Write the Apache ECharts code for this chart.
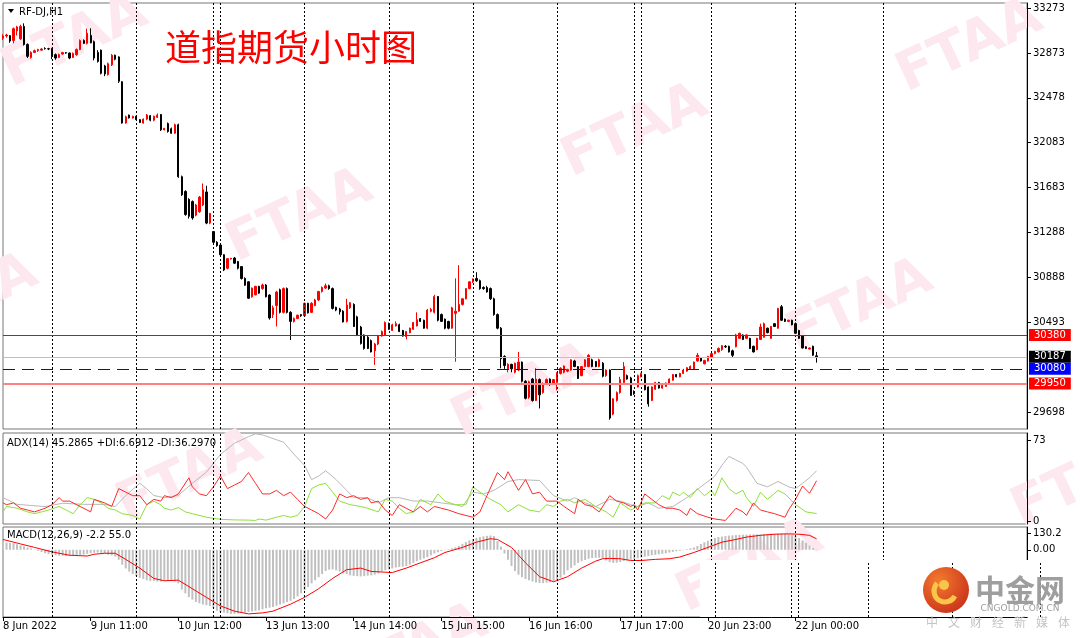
<!DOCTYPE html>
<html><head><meta charset="utf-8">
<script src="https://cdn.jsdelivr.net/npm/echarts/dist/echarts.min.js"></script>
<style>html,body{margin:0;padding:0;background:#fff}#c{width:1080px;height:638px}</style>
</head><body><div id="c"></div><script>
// ---------- DATA ----------
const slotCount = 293; // hourly slots visible (incl. empty right margin)
const categories = Array.from({length: slotCount}, (_, i) => String(i));
const timeTicks = [[0,'8 Jun 2022'],[25,'9 Jun 11:00'],[50,'10 Jun 12:00'],[75,'13 Jun 13:00'],[100,'14 Jun 14:00'],[125,'15 Jun 15:00'],[150,'16 Jun 16:00'],[176,'17 Jun 17:00'],[201,'20 Jun 23:00'],[226,'22 Jun 00:00']];
const daySeparators = [14,38,60,62,86,110,134,158,180,182,202,226,251];
const priceTicks = [33273,32873,32478,32083,31683,31288,30888,30493,29698];
const adxTicks = [0,73];
const macdTicks = [0,130.2];
const levels = [30380,30187,30080,29950];
// [open, close, low, high]
const ohlc = [
[33005,33025,32990,33040],[33025,33034,33010,33045],[33028,32980,32965,33034],[32985,33090,32960,33100],[33070,33105,33030,33115],
[33000,33110,32990,33125],[33110,32950,32940,33137],[32950,32845,32830,32960],[32835,32880,32825,32890],[32880,32895,32875,32905],
[32895,32905,32885,32912],[32900,32910,32895,32918],[32915,32912,32905,32925],[32912,32910,32900,32920],[32915,32845,32820,32920],
[32860,32830,32815,32870],[32835,32860,32830,32870],[32865,32878,32860,32885],[32878,32874,32868,32882],[32874,32830,32820,32880],
[32835,32870,32830,32880],[32860,32905,32850,32915],[32905,32985,32900,32995],[32985,32960,32955,32995],[32960,33050,32950,33090],
[33030,32965,32960,33093],[32975,32830,32810,32985],[32880,32800,32790,32900],[32900,32695,32685,32905],[32760,32690,32670,32770],
[32685,32780,32675,32790],[32770,32855,32760,32865],[32855,32820,32810,32860],[32840,32625,32610,32845],[32620,32255,32250,32625],
[32255,32310,32250,32320],[32325,32300,32295,32330],[32300,32315,32295,32320],[32315,32285,32275,32320],[32285,32260,32255,32290],
[32255,32290,32250,32295],[32290,32325,32280,32335],[32320,32280,32270,32325],[32280,32315,32270,32320],[32305,32325,32300,32340],
[32330,32195,32185,32335],[32195,32208,32190,32212],[32250,32180,32170,32260],[32205,32165,32160,32215],[32165,32240,32160,32250],
[32240,31780,31770,32250],[31780,31620,31610,31790],[31650,31445,31435,31660],[31580,31430,31410,31590],[31560,31415,31400,31570],
[31440,31530,31430,31540],[31470,31600,31460,31610],[31530,31665,31520,31720],[31645,31370,31360,31700],[31370,31455,31360,31460],
[31295,31200,31180,31300],[31200,31170,31160,31210],[31175,31090,31080,31180],[31090,30955,30945,31095],[30970,31055,30960,31060],
[31052,31058,31048,31062],[31060,31015,31010,31070],[31030,30970,30960,31035],[30985,30880,30870,30990],[30880,30820,30815,30890],
[30850,30705,30700,30855],[30718,30795,30710,30800],[30735,30810,30730,30815],[30810,30750,30745,30815],[30790,30822,30780,30835],
[30822,30718,30712,30830],[30733,30530,30515,30740],[30560,30620,30530,30640],[30640,30760,30455,30770],[30780,30580,30570,30790],
[30580,30790,30570,30800],[30790,30580,30570,30800],[30580,30500,30335,30590],[30500,30525,30490,30535],[30525,30555,30520,30560],
[30560,30550,30540,30565],[30550,30660,30545,30665],[30660,30575,30570,30665],[30580,30660,30575,30670],[30640,30690,30635,30700],
[30690,30765,30680,30770],[30765,30800,30755,30810],[30795,30815,30785,30835],[30815,30790,30780,30825],[30790,30615,30605,30800],
[30625,30600,30590,30630],[30610,30585,30560,30620],[30590,30495,30490,30600],[30500,30645,30490,30700],[30620,30665,30610,30670],
[30650,30455,30450,30660],[30540,30380,30370,30550],[30450,30305,30295,30460],[30380,30260,30250,30385],[30360,30260,30255,30370],
[30330,30230,30225,30340],[30240,30300,30115,30310],[30300,30370,30290,30380],[30370,30410,30365,30420],[30380,30490,30375,30500],
[30480,30430,30425,30490],[30420,30470,30415,30480],[30460,30480,30455,30500],[30470,30410,30405,30480],[30420,30370,30365,30425],
[30365,30410,30340,30415],[30400,30440,30395,30445],[30430,30490,30425,30495],[30460,30515,30455,30580],[30525,30500,30495,30530],
[30510,30440,30435,30515],[30440,30600,30430,30610],[30590,30605,30580,30620],[30580,30720,30570,30735],[30720,30510,30500,30725],
[30560,30500,30495,30570],[30520,30440,30430,30525],[30500,30440,30430,30505],[30440,30620,30435,30630],[30571,30590,30143,30881],
[30590,30650,30585,30998],[30650,30700,30640,30705],[30700,30790,30695,30795],[30790,30850,30785,30855],[30850,30875,30840,30880],
[30880,30860,30850,30935],[30860,30790,30780,30870],[30800,30790,30780,30810],[30800,30760,30755,30815],[30790,30700,30690,30800],
[30700,30560,30550,30710],[30560,30440,30430,30570],[30440,30170,30085,30450],[30190,30110,30080,30200],[30080,30120,30050,30130],
[30120,30080,30050,30125],[30050,30130,30040,30135],[30070,30140,30060,30230],[30140,29970,29960,30145],[29970,29820,29810,29980],
[29830,29965,29815,29975],[29990,29800,29790,30000],[29800,29990,29795,30085],[29985,29850,29730,29995],[29870,29950,29860,29960],
[29950,29985,29940,29995],[29990,29945,29930,29995],[29945,29985,29940,29990],[29960,30045,29890,30050],[30040,30085,30030,30095],
[30050,30105,30040,30110],[30060,30075,30050,30080],[30070,30160,30065,30165],[30150,30100,30095,30160],[30100,29995,29990,30105],
[30020,30100,30015,30105],[30100,30160,30095,30165],[30100,30200,30095,30210],[30160,30100,30095,30170],[30145,30100,30095,30150],
[30100,30160,30095,30170],[30130,30015,30005,30140],[30020,30070,30010,30075],[30070,29645,29630,30075],[29680,29815,29670,29820],
[29800,29870,29790,29880],[29870,29985,29860,30010],[29960,30100,29950,30140],[30020,29990,29985,30030],[30000,29845,29840,30010],
[29880,29860,29850,29890],[29920,30020,29915,30030],[30010,30040,30005,30045],[30030,29895,29890,30035],[29920,29770,29745,29925],
[29800,29920,29795,29925],[29900,29960,29895,29965],[29960,29910,29905,29965],[29910,29935,29905,29940],[29925,29955,29920,29960],
[29955,29990,29950,29995],[29980,30030,29975,30035],[30030,30010,30005,30035],[30010,30040,30005,30045],[30040,30070,30035,30080],
[30060,30090,30055,30095],[30080,30100,30070,30110],[30075,30140,30070,30145],[30150,30200,30145,30220],[30175,30150,30145,30180],
[30125,30155,30120,30160],[30150,30190,30145,30195],[30180,30215,30175,30220],[30215,30235,30210,30240],[30230,30260,30225,30270],
[30250,30285,30240,30290],[30280,30275,30265,30290],[30280,30230,30225,30285],[30240,30200,30185,30250],[30276,30380,30270,30390],
[30350,30395,30345,30400],[30380,30340,30335,30385],[30350,30380,30345,30385],[30350,30260,30255,30355],[30280,30230,30225,30285],
[30250,30350,30245,30355],[30340,30450,30335,30480],[30360,30480,30355,30490],[30440,30400,30395,30445],[30350,30455,30345,30460],
[30480,30455,30450,30485],[30440,30615,30435,30620],[30630,30510,30505,30645],[30520,30500,30495,30525],[30500,30510,30495,30515],
[30510,30470,30465,30515],[30480,30395,30390,30490],[30420,30350,30345,30425],[30370,30265,30260,30375],[30275,30260,30255,30280],
[30255,30265,30250,30270],[30280,30200,30195,30285],[30195,30187,30135,30230]
];
// ADX(14) lines, [bar index, value] read at sampled bars
const adxMain = [[0,21],[4,15],[12,13],[17,16],[23,15],[29,15],[32,13],[35,23],[39,34],[41,29],[43,23],[46,21],[50,23],[54,34],[58,44],[62,60],[66,70],[70,76],[72,78.5],[74,77.6],[77,74.3],[80,71],[84,56.6],[86,50.2],[88,37.3],[90,40.5],[92,45.3],[95,37.3],[98,27.6],[100,21.1],[103,21],[105,19.5],[107,16.3],[110,21],[113,21],[117,18],[121,18],[125,16.3],[129,14.7],[131,13],[134,26],[137,24.4],[140,27.6],[144,35.6],[147,37.3],[153,36.5],[157,22.8],[161,17.9],[163,21],[166,16.3],[169,13],[173,19.5],[176,17.9],[179,14.7],[181,13],[184,16.3],[187,11.5],[191,13],[195,21],[199,30.8],[203,40.5],[205,50.2],[207,58.2],[209,55],[211,51.8],[212,48.5],[215,34],[218,30.8],[221,35.6],[224,30.8],[226,29.2],[228,34],[230,38.9],[232,45.3]];
const minusDI = [[0,16.3],[1,14.7],[3,16.3],[5,11.5],[7,9.9],[9,8.2],[12,11.5],[14,14.7],[16,21.1],[17,17.9],[19,17.9],[22,13.1],[25,8.2],[26,19.5],[29,16.3],[31,13.1],[33,29.2],[35,26],[37,22.8],[39,22.8],[41,14.7],[43,19.5],[45,17.9],[46,22.8],[48,21.1],[50,24.4],[53,38.9],[54,30.8],[56,24.4],[58,22.8],[60,30.8],[62,40.5],[64,29.2],[66,32.4],[68,35.6],[70,43.7],[72,34],[74,24.4],[76,24.4],[78,27.6],[80,22.8],[82,26],[84,19.5],[86,13.1],[88,9.9],[90,6.6],[92,1.8],[94,9.9],[96,24.4],[98,21.1],[100,22.8],[102,19.5],[104,21.1],[105,16.3],[107,17.9],[109,9.9],[111,5],[113,14.7],[115,11.5],[117,8.2],[119,13.1],[121,8.2],[123,13.1],[125,11.5],[127,9.9],[130,6.6],[134,3.4],[136,8.2],[138,22.8],[141,43.7],[143,37.3],[144,44.4],[147,27.6],[149,37.3],[151,24.4],[153,26],[155,17.9],[158,17.9],[160,13.1],[163,6.6],[164,19.5],[166,14.7],[168,13.1],[170,8.2],[173,22.8],[175,17.9],[177,16.3],[179,13.1],[180,14.7],[181,9.9],[183,24.4],[185,19.5],[187,14.7],[189,11.5],[191,11.5],[193,9.9],[195,5],[196,11.5],[198,6.6],[201,3.4],[203,1.8],[206,0.5],[209,11.5],[211,8.2],[212,5],[214,16.3],[216,9.9],[218,8.2],[220,6.6],[223,3.4],[224,9.9],[226,19.5],[228,31.5],[230,25],[232,36.3]];
const plusDI = [[0,8.2],[1,13.1],[4,11.5],[7,8.2],[9,6.6],[11,8.2],[13,9.9],[16,13.1],[18,9.9],[20,6.6],[22,14.7],[24,21.1],[26,19.5],[28,16.3],[30,11.5],[32,9.9],[34,6.6],[37,5],[39,1.8],[41,14.7],[43,17.9],[45,14.7],[46,11.5],[48,9.9],[50,12.1],[52,8.2],[54,6.6],[58,3.4],[62,1.5],[66,1],[70,0.8],[72,0.5],[73,1.8],[75,0.8],[78,3.4],[80,5],[82,3.4],[84,5],[86,13.1],[88,29.2],[90,32.4],[92,34],[94,26],[96,17.9],[99,14.7],[102,13.1],[104,11.5],[107,8.2],[109,19.5],[111,17.9],[113,11.5],[115,6.6],[117,8.2],[119,19.5],[122,14.7],[124,24.4],[126,17.9],[129,14.7],[132,14.7],[134,30.8],[136,26],[139,19.5],[142,14.7],[144,8.2],[147,14.7],[150,9.9],[153,8.2],[155,14.7],[157,13.1],[159,17.9],[161,19.5],[163,16.3],[166,19.5],[169,13.1],[172,8.2],[174,3.4],[176,16.3],[179,9.9],[181,13.1],[183,16.3],[186,16.3],[188,22.8],[190,19.5],[191,26],[193,22.8],[194,26],[196,21.1],[198,29.2],[200,22.8],[202,27.6],[203,22.8],[205,38.9],[207,29.2],[209,24.4],[211,27.6],[212,21.1],[214,13.1],[216,26],[218,19.5],[221,27.6],[223,24.4],[226,14.7],[229,8.2],[232,6.7]];
// MACD(12,26,9): histogram per bar, signal line at sampled bars
const macdHist = [60,58,55,52,45,35,28,18,10,3,-8,-18,-28,-35,
-40,-44,-47,-48,-50,-50,-48,-46,-42,-38,-32,-28,
-24,-22,-24,-30,-40,-45,-55,-80,-120,-150,-175,-195,-210,
-225,-235,-245,-250,-252,-255,-255,-250,-248,-250,-255,-270,
-320,-350,-380,-400,-420,-430,-440,-445,-450,-470,
-490,-500,-505,-510,-515,-515,-512,-508,-505,-500,-495,-490,-485,-478,
-470,-465,-460,-450,-440,-430,-420,-410,-395,-375,-350,-325,-300,-270,
-245,-220,-195,-170,-160,-158,-165,-175,-185,-195,-205,-210,-212,-214,-212,-208,
-205,-200,-190,-175,-165,-158,-150,-142,-138,-135,-130,-120,-105,
-92,-80,-70,-60,-45,-30,-20,-10,-3,5,12,20,32,48,62,75,85,95,
102,108,112,115,110,70,25,-30,-80,-130,
-170,-200,-220,-235,-245,-255,-262,-268,-268,-264,-260,-257,-245,-225,-200,
-165,-145,-125,-105,-92,-82,-72,-66,-64,-64,-70,-85,
-100,-105,-104,-98,-92,-86,-80,-74,-68,-62,-56,-50,-44,
-40,-36,-32,-28,-22,-17,-12,-8,-3,5,12,19,30,47,
60,72,85,95,102,106,110,114,116,118,120,121,122,
123,124,125,125,126,127,128,128,129,130,128,125,
118,110,95,75,55,33,15,-2];
const macdSignal = [[0,83],[5,47],[9,19],[14,-17],[19,-44],[24,-50],[26,-36],[29,-28],[32,-28],[35,-77],[39,-147],[43,-230],[46,-249],[50,-244],[54,-313],[58,-382],[62,-451],[66,-493],[70,-515],[74,-507],[77,-493],[82,-437],[86,-382],[90,-313],[94,-230],[98,-160],[102,-147],[105,-174],[111,-183],[115,-147],[119,-105],[123,-64],[126,-22],[131,19],[135,61],[139,89],[141,83],[145,19],[149,-105],[153,-216],[157,-257],[161,-216],[165,-147],[169,-91],[171,-72],[173,-69],[176,-72],[179,-86],[182,-86],[186,-77],[190,-72],[193,-58],[197,-22],[201,19],[205,61],[209,83],[212,102],[216,116],[220,125],[224,128],[227,125],[230,116],[232,88]];

// ---------- STYLE / LAYOUT ----------
const FONT = 'DejaVu Sans';
const levelStyles = [
  {line:{color:'#ff0000',width:1,type:'solid'}, bg:'#ff0000'},
  {line:{color:'#c0c0c0',width:1,type:'solid'}, bg:'#000000'},
  {line:{color:'#0000ff',width:1,type:[12,7]}, bg:'#0000ff'},
  {line:{color:'#ff8080',width:2,type:'solid'}, bg:'#ff0000'}
];
const tickMap = new Map(timeTicks);
const sepStyle = {color:'#000', width:1, type:[2,2]};
const sepMarks = daySeparators.map(i => ({xAxis:i}));

const gridL = 3, gridR = 53;
function xAx(g){
  const bottom = g === 2;
  return {type:'category', gridIndex:g, data:categories, boundaryGap:false,
    axisLine:{show:bottom, onZero:false, lineStyle:{color:'#000'}},
    axisTick:{show:bottom, interval:(i)=>tickMap.has(i), length:4, lineStyle:{color:'#000'}},
    axisLabel:{show:bottom, interval:(i)=>tickMap.has(i), formatter:(v)=>tickMap.get(Number(v))||'',
      align:'left', margin:4, color:'#000', fontFamily:FONT, fontSize:10},
    splitLine:{show:false}};
}
function yAx(g, min, max, ticks, fmt){
  return {type:'value', gridIndex:g, position:'right', min:min, max:max, scale:true,
    axisLine:{show:true, onZero:false, lineStyle:{color:'#000'}},
    axisTick:{show:true, customValues:ticks, length:4, lineStyle:{color:'#000'}},
    axisLabel:{show:true, customValues:ticks, margin:6, color:'#000', fontFamily:FONT, fontSize:10, formatter:fmt},
    splitLine:{show:false}};
}
function sepSeries(g){
  return {type:'line', xAxisIndex:g, yAxisIndex:g, data:[], z:2, silent:true,
    markLine:{silent:true, symbol:['none','none'], animation:false, lineStyle:sepStyle, label:{show:false}, data:sepMarks}};
}
function levelSeries(k){
  const st = levelStyles[k];
  return {type:'line', xAxisIndex:0, yAxisIndex:0, data:[], z:5, silent:true,
    markLine:{silent:true, symbol:['none','none'], animation:false, lineStyle:st.line,
      label:{show:true, position:'end', distance:2, formatter:String(levels[k]), color:'#fff', backgroundColor:st.bg,
        fontFamily:FONT, fontSize:10, lineHeight:10, padding:[1,5,1,5]},
      data:[{yAxis:levels[k]}]}};
}

// decorative watermark lattice, logo overlay
const graphics = [];
const wmOrigin = [75,42], wmA = [335,-85], wmB = [225,175];
for (let a=-2; a<=3; a++) for (let b=-2; b<=4; b++) {
  const x = wmOrigin[0] + a*wmA[0] + b*wmB[0], y = wmOrigin[1] + a*wmA[1] + b*wmB[1];
  if (x < -120 || x > 1200 || y < -60 || y > 700) continue;
  graphics.push({type:'text', x:x, y:y, rotation:25*Math.PI/180, z:0, silent:true,
    style:{text:'FTAA', fill:'#fce8ee', font:'bold 54px "DejaVu Sans"', textAlign:'center', textVerticalAlign:'middle'}});
}
graphics.push(
  {type:'polygon', z:20, shape:{points:[[8,9],[14,9],[11,13]]}, style:{fill:'#000'}},
  {type:'text', z:20, x:19, y:12, style:{text:'RF-DJ,H1', fill:'#000', font:'10px "DejaVu Sans"', textVerticalAlign:'middle'}},
  {type:'text', z:20, x:165, y:47, style:{text:'道指期货小时图', fill:'#ff0000', font:'36px "Noto Sans CJK SC"', textVerticalAlign:'middle'}},
  {type:'text', z:20, x:7, y:443, style:{text:'ADX(14) 45.2865 +DI:6.6912 -DI:36.2970', fill:'#000', font:'10px "DejaVu Sans"', textVerticalAlign:'middle'}},
  {type:'text', z:20, x:7, y:535, style:{text:'MACD(12,26,9) -2.2 55.0', fill:'#000', font:'10px "DejaVu Sans"', textVerticalAlign:'middle'}},
  // pasted logo panel (white backing with its own dashed strip)
  {type:'rect', z:25, shape:{x:700, y:560, width:380, height:57}, style:{fill:'#fff'}},
  {type:'circle', z:30, shape:{cx:946, cy:590, r:23}, style:{fill:new echarts.graphic.RadialGradient(0.35,0.3,0.8,[{offset:0,color:'#f37a2e'},{offset:1,color:'#c8301a'}])}},
  {type:'arc', z:31, shape:{cx:945, cy:591, r:11, startAngle:Math.PI*0.15, endAngle:Math.PI*1.25, clockwise:true}, style:{stroke:'#f9c64a', lineWidth:5, fill:null}},
  {type:'circle', z:31, shape:{cx:944, cy:585, r:5}, style:{fill:'#f9c64a'}},
  {type:'text', z:30, x:1020, y:590, style:{text:'中金网', fill:'#9e9e9e', font:'bold 30px "Noto Sans CJK SC"', textAlign:'center', textVerticalAlign:'middle'}},
  {type:'text', z:30, x:1020, y:609, style:{text:'CNGOLD.COM.CN', fill:'#9e9e9e', font:'9px "DejaVu Sans"', textAlign:'center', textVerticalAlign:'middle'}}
);
[715,791,798,868,952,1040].forEach(x => graphics.push({type:'line', z:26, shape:{x1:x+0.5, y1:563, x2:x+0.5, y2:617}, style:{stroke:'#000', lineWidth:1, lineDash:[2,2]}}));
'中文财经新媒体'.split('').forEach((ch,k) => graphics.push({type:'text', z:30, x:932+k*22, y:622, style:{text:ch, fill:'#c4c4c4', font:'12px "Noto Sans CJK SC"', textAlign:'center', textVerticalAlign:'middle'}}));

const option = {
  animation:false,
  backgroundColor:'#ffffff',
  textStyle:{fontFamily:FONT},
  grid:[
    {left:gridL, right:gridR, top:3, height:426, show:true, borderColor:'#777', borderWidth:1},
    {left:gridL, right:gridR, top:433, height:91, show:true, borderColor:'#777', borderWidth:1},
    {left:gridL, right:gridR, top:527, height:90, show:true, borderColor:'#777', borderWidth:1}
  ],
  xAxis:[xAx(0), xAx(1), xAx(2)],
  yAxis:[
    yAx(0, 29548, 33317, priceTicks, (v)=>String(Math.round(v))),
    yAx(1, -2.7, 79.3, adxTicks, (v)=>String(Math.round(v))),
    yAx(2, -540, 183, macdTicks, (v)=> v===0 ? '0.00' : v.toFixed(1))
  ],
  graphic:graphics,
  series:[
    sepSeries(0), sepSeries(1), sepSeries(2),
    levelSeries(0), levelSeries(1), levelSeries(2), levelSeries(3),
    {type:'candlestick', xAxisIndex:0, yAxisIndex:0, data:ohlc, barWidth:1.8, z:3,
      itemStyle:{color:'#ff0000', color0:'#000000', borderColor:'#ff0000', borderColor0:'#000000', borderWidth:1}},
    {type:'line', xAxisIndex:1, yAxisIndex:1, data:adxMain, showSymbol:false, z:3, lineStyle:{color:'#b8b8b8', width:1}},
    {type:'line', xAxisIndex:1, yAxisIndex:1, data:plusDI, showSymbol:false, z:3, lineStyle:{color:'#8fe03a', width:1}},
    {type:'line', xAxisIndex:1, yAxisIndex:1, data:minusDI, showSymbol:false, z:4, lineStyle:{color:'#ff2a2a', width:1}},
    {type:'bar', xAxisIndex:2, yAxisIndex:2, data:macdHist, barWidth:2, z:3, itemStyle:{color:'#c0c0c0'}},
    {type:'line', xAxisIndex:2, yAxisIndex:2, data:macdSignal, showSymbol:false, z:4, lineStyle:{color:'#ff0000', width:1}}
  ]
};
echarts.init(document.getElementById('c'), null, {renderer:'canvas'}).setOption(option);
</script></body></html>
